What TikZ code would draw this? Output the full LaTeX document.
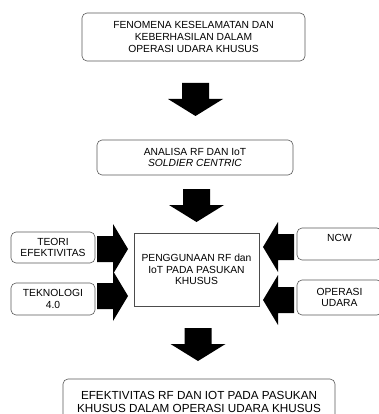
\documentclass[tikz,border=0pt]{standalone}
\usepackage{fontspec}
\setsansfont{Liberation Sans}
\usetikzlibrary{positioning}
\tikzset{every picture/.style={/utils/exec={\sffamily}}}

\begin{document}
\begin{tikzpicture}[x=1pt, y=-1pt,
			every node/.style={font=\fontsize{10.3}{11.7}\selectfont, align=center, inner sep=0pt},
			stage/.style={draw=black!65, line width=0.6pt, rounded corners=5pt, fill=white},
			core/.style={draw=black!70, line width=0.6pt, fill=white},
			downarrow/.pic={\fill[black] (-13.5,0) -- (13.5,0) -- (13.5,16) -- (27.5,16) -- (0,33) -- (-27.5,16) -- (-13.5,16) -- cycle;},
			sidearrow/.pic={\fill[black] (-13,0) -- (13,0) -- (13,16) -- (25,16) -- (0,31) -- (-25,16) -- (-13,16) -- cycle;}
		]
			\clip (0,0) rectangle (379,414);
			\node at (193.5,37) [stage, minimum width=223, minimum height=48] (nodeFenomena) {FENOMENA KESELAMATAN DAN\\KEBERHASILAN DALAM\\OPERASI UDARA KHUSUS};
			\node at (195,157.5) [stage, minimum width=196, minimum height=35] (nodeAnalisa) {ANALISA RF DAN IoT\\\textit{SOLDIER CENTRIC}};
			\node at (196.5,269.5) [core, minimum width=125, minimum height=73] (nodePenggunaan) {PENGGUNAAN RF dan\\IoT PADA PASUKAN\\KHUSUS};
			\node at (53,247.5) [stage, minimum width=84, minimum height=31] (nodeTeori) {TEORI\\EFEKTIVITAS};
			\node at (53,299) [stage, minimum width=84, minimum height=32] (nodeTeknologi) {TEKNOLOGI\\4.0};
			\node at (339.5,244) [stage, minimum width=85, minimum height=32] (nodeNcw) {NCW\\\mbox{}};
			\node at (339.5,297.5) [stage, minimum width=85, minimum height=35] (nodeOperasi) {OPERASI\\UDARA};
			\node at (199,402) [stage, minimum width=272, minimum height=46, font=\fontsize{11.7}{13}\selectfont] (nodeEfektivitas) {EFEKTIVITAS RF DAN IOT PADA PASUKAN\\KHUSUS DALAM OPERASI UDARA KHUSUS};
			\pic at (195.5,83) {downarrow};
			\pic at (196.5,189) {downarrow};
			\pic at (198,328) {downarrow};
			\pic[rotate=90] at (97,249) {sidearrow};
			\pic[rotate=90] at (97,296) {sidearrow};
			\pic[rotate=-90] at (294,247) {sidearrow};
			\pic[rotate=-90] at (294,300) {sidearrow};
		\end{tikzpicture}
\end{document}
